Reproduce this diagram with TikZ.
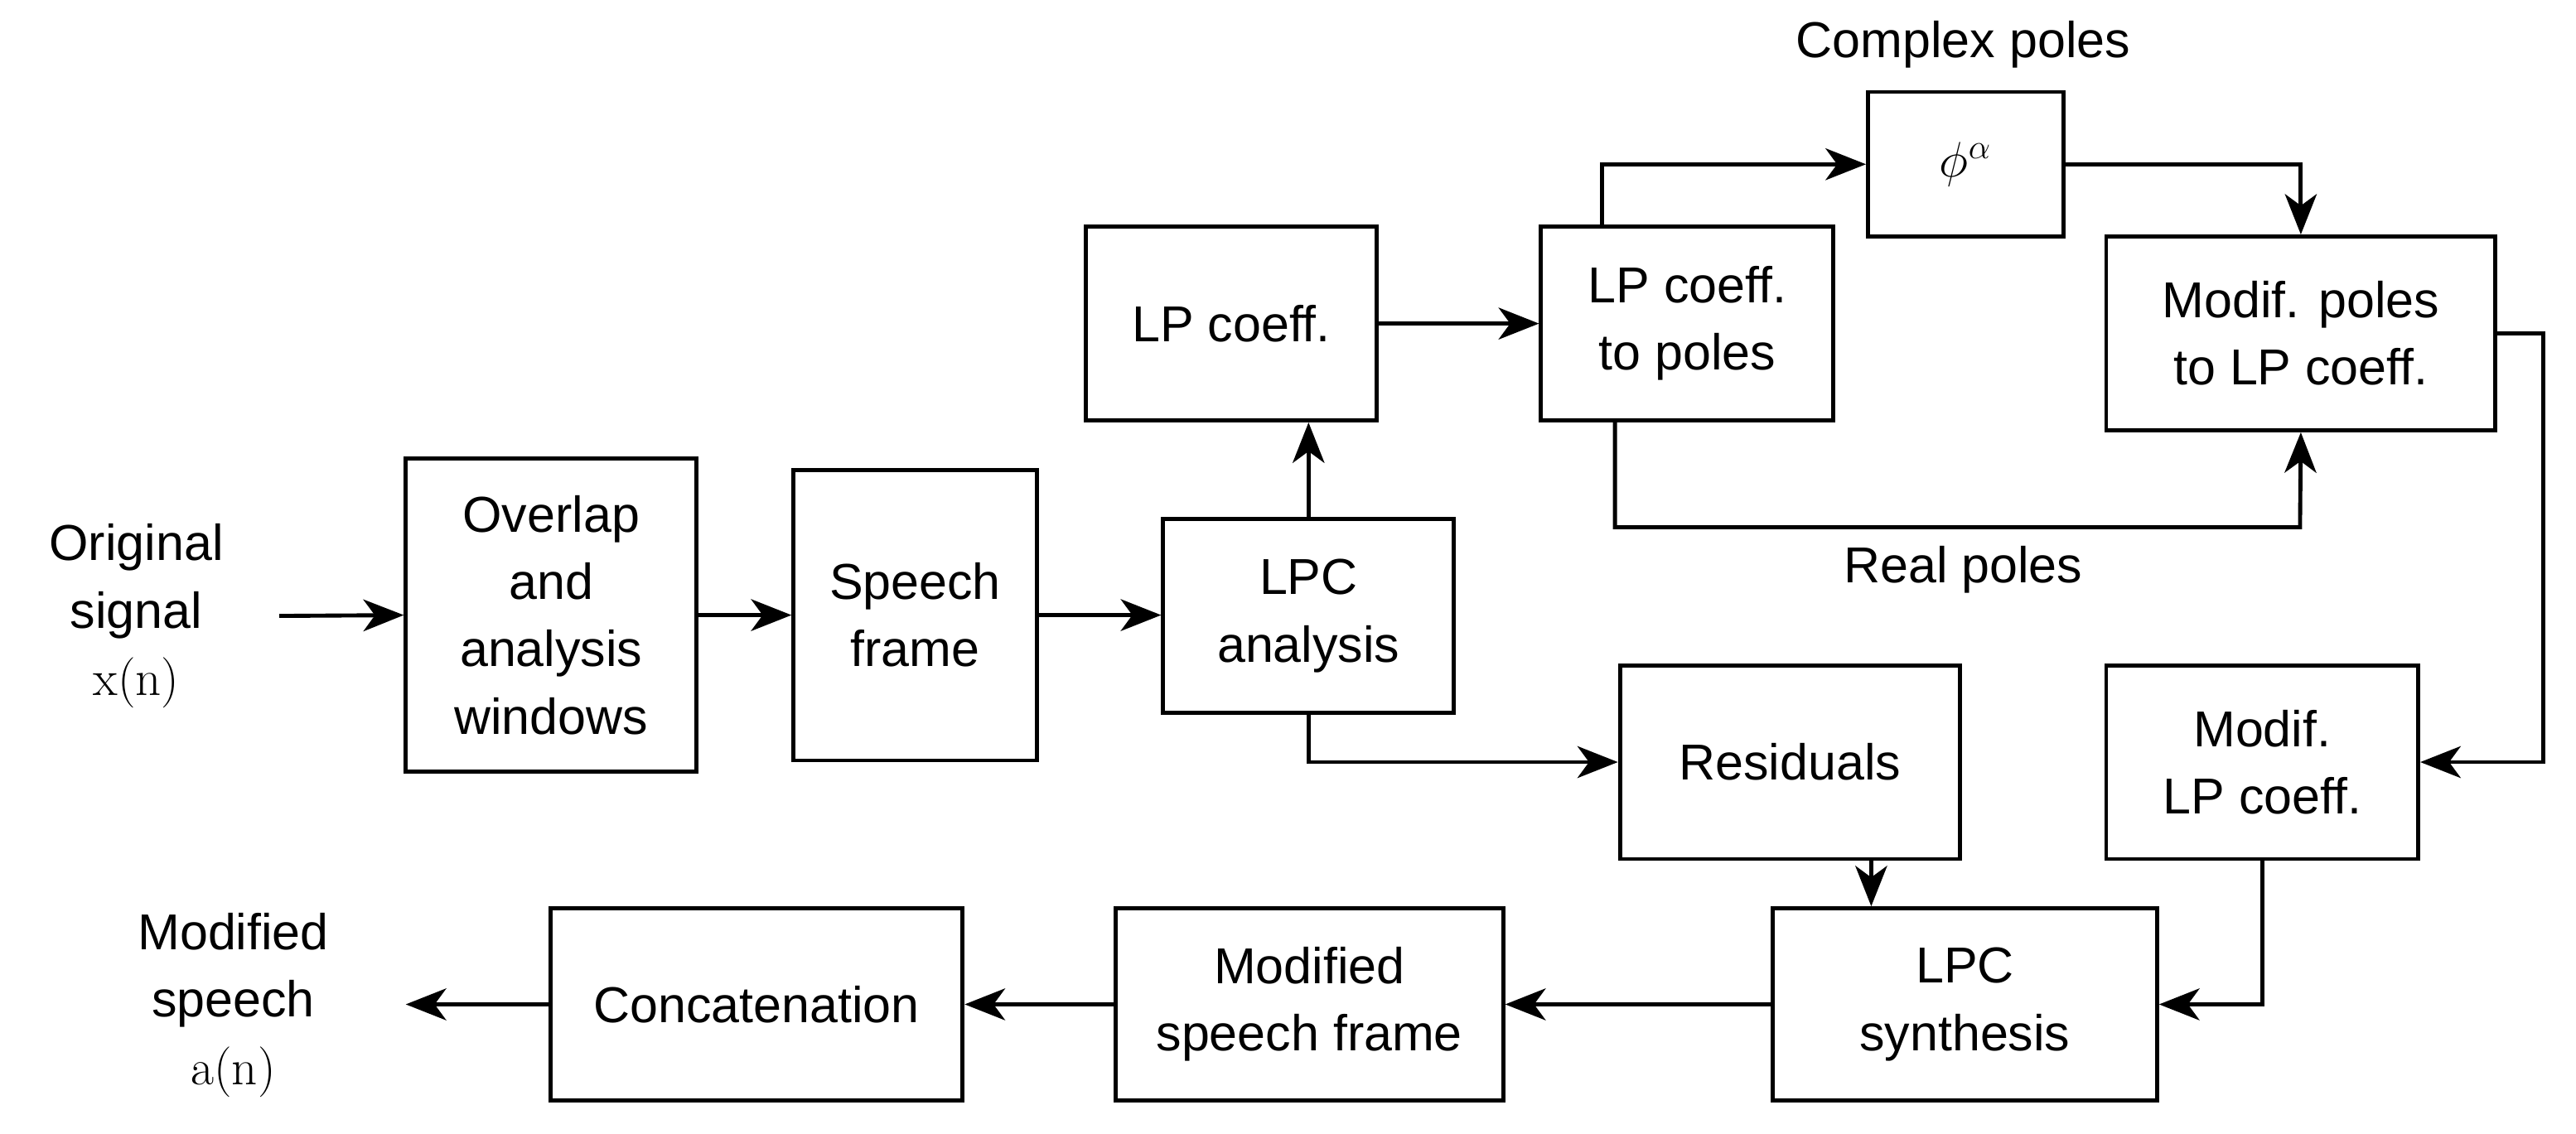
\documentclass[tikz,border=0pt]{standalone}
\usepackage{fontspec}
\newfontfamily\sansf{Liberation Sans}
\usetikzlibrary{arrows.meta}
\begin{document}
\begin{tikzpicture}[x=0.02cm,y=-0.02cm,
 box/.style={draw,line width=1.4pt,align=center,inner sep=0pt,font=\sansf\fontsize{17.5}{23.3}\selectfont},
 lab/.style={align=center,inner sep=0pt,font=\sansf\fontsize{17.5}{23.3}\selectfont},
 ar/.style={line width=1.4pt,-{Stealth[length=14pt,width=11pt,inset=4pt]}}]
\useasboundingbox (0,0) rectangle (1568,690);
\node[box,minimum width=3.54cm,minimum height=3.82cm] (ov) at (335.5,374.5) {Overlap\\and\\analysis\\windows};
\node[box,minimum width=2.96cm,minimum height=3.54cm] (sf) at (557,374.5) {Speech\\frame};
\node[box,minimum width=3.54cm,minimum height=2.36cm] (lpc) at (796.5,375) {LPC\\analysis};
\node[box,minimum width=3.54cm,minimum height=2.36cm] (lp) at (749.5,197) {LP coeff.};
\node[box,minimum width=3.56cm,minimum height=2.36cm] (tp) at (1027,197) {LP coeff.\\to poles};
\node[box,minimum width=2.38cm,minimum height=1.76cm] (phi) at (1196.5,100) {$\phi^{\alpha}$};
\node[box,minimum width=4.74cm,minimum height=2.36cm] (mp) at (1400.5,203) {Modif. poles\\to LP coeff.};
\node[box,minimum width=4.14cm,minimum height=2.36cm] (res) at (1089.5,464) {Residuals};
\node[box,minimum width=3.8cm,minimum height=2.36cm] (mlp) at (1377,464) {Modif.\\LP coeff.};
\node[box,minimum width=4.68cm,minimum height=2.34cm] (syn) at (1196,611.5) {LPC\\synthesis};
\node[box,minimum width=4.72cm,minimum height=2.34cm] (msf) at (797,611.5) {Modified\\speech frame};
\node[box,minimum width=5.02cm,minimum height=2.34cm] (cat) at (460.5,611.5) {Concatenation};
\node[lab] (orig) at (83,375) {Original\\signal\\{\rmfamily x(n)}};
\node[lab] (mod) at (142,612) {Modified\\speech\\{\rmfamily a(n)}};
\node[lab] (cp) at (1195,27) {Complex poles};
\node[lab] (rp) at (1195,347) {Real poles};
\coordinate (in) at (170,375);
\coordinate (out) at (247,611.5);
\draw[ar] (in) -- (ov.west);
\draw[ar] (ov) -- (sf);
\draw[ar] (sf.east) -- (lpc.west |- sf.east);
\draw[ar] (lpc.north) -- (lp.south -| lpc.north);
\draw[ar] (lp) -- (tp);
\draw[ar] (tp.north -| 975,0) |- (phi.west);
\draw[ar] (phi.east) -| (mp.north);
\draw[ar] (tp.south -| 983,0) |- (1400,321) -- (mp.south);
\draw[ar] (mp.east) -| (1548,464) -- (mlp.east);
\draw[ar] (lpc.south) |- (res.west);
\draw[ar] (res.south -| 1139,0) -- (syn.north -| 1139,0);
\draw[ar] (mlp.south) |- (syn.east);
\draw[ar] (syn) -- (msf);
\draw[ar] (msf) -- (cat);
\draw[ar] (cat.west) -- (out);
\end{tikzpicture}
\end{document}
